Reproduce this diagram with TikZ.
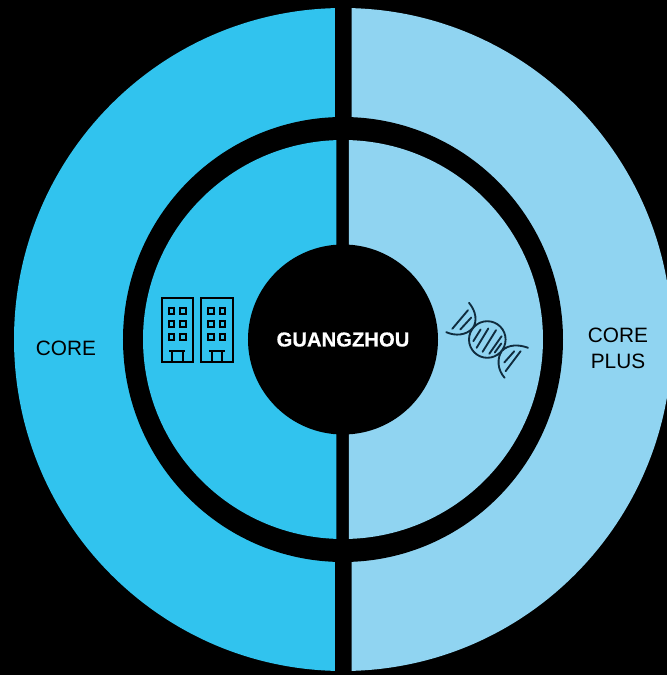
\documentclass[tikz,border=0pt]{standalone}
\usepackage{fontspec}
\setmainfont{Liberation Sans}
\newfontfamily\hubfont[BoldFeatures={FakeBold=0.4}]{Liberation Sans}
\definecolor{mycoreblue}{RGB}{49,195,238}
\definecolor{myplusblue}{RGB}{144,212,241}
\definecolor{mydnablue}{RGB}{16,44,62}
\newcommand{\halfdisk}[5]{\fill[#1] ({#2*cos(#4)},{#3*sin(#4)}) arc[start angle=#4, end angle=#5, x radius=#2, y radius=#3] -- cycle;}
\tikzset{
    regionlabel/.style={align=center, text=black, font=\fontsize{15.6pt}{19.5pt}\selectfont},
    hub/.style={fill=black, circle, inner sep=0pt, minimum size=142.5pt, text=white, font=\fontsize{15.2pt}{18pt}\hubfont\bfseries},
    building/.pic={
        \draw[line width=1.4pt] (-15.8,-31.7) rectangle (15.8,31.7);
        \foreach \wx in {-5.8,5.8}
            \foreach \wy in {19,6,-7}
                \draw[line width=1.5pt] (\wx-2.8,\wy-2.8) rectangle (\wx+2.8,\wy+2.8);
        \draw[line width=1.4pt] (-8,-20.7) -- (8,-20.7) (-5.2,-20.7) -- (-5.2,-31.7) (5.2,-20.7) -- (5.2,-31.7);
    },
    dna/.pic={
        \draw[mydnablue, line width=1.4pt, line cap=round] (0,0) circle (18.3)
            (-18.3,36.7) .. controls (-11,28) and (-10,18) .. (-14.5,11.5)
            (-41,7.3) .. controls (-32,3.3) and (-21,4) .. (-14.5,11.5)
            (17.3,-38.3) .. controls (10,-30) and (9.5,-19) .. (14.5,-11.5)
            (40.7,-8.3) .. controls (32,-5) and (21,-4.5) .. (14.5,-11.5)
            (-35,10.7) -- (-19.3,29.3)
            (-27,10) -- (-16,22)
            (17,-23) -- (27,-11.7)
            (18.3,-31.7) -- (33.3,-11.7);
        \foreach \hxa/\hya/\hxb/\hyb in {-14/-1.7/-6.7/10,-10.7/-8.3/1/11,-4.7/-12.3/8.7/9.3,2/-14.3/14.3/3.3,7.5/-13/14/-4}
            \draw[mydnablue, line width=1.4pt, line cap=round] (\hxa,\hya) -- (\hxb,\hyb);
    }
}
\begin{document}
\begin{tikzpicture}[x=0.75pt, y=0.75pt]
            \fill[black] (-343,-335.5) rectangle (324,339.5);
            \clip (-343,-335.5) rectangle (324,339.5);

            \halfdisk{mycoreblue}{329}{331.5}{91.4}{268.6}
            \halfdisk{myplusblue}{329}{331.5}{88.5}{-88.5}
            \fill[black] (0,0) ellipse[x radius=220, y radius=222.5];
            \halfdisk{mycoreblue}{200}{199.5}{91.9}{268.1}
            \halfdisk{myplusblue}{200}{199.5}{88.3}{-88.3}

            \node[hub] (guangzhou) at (0,0) {GUANGZHOU};
            \node[regionlabel] (core) at (-277,-8.5) {CORE};
            \node[regionlabel] (coreplus) at (275,-8.5) {CORE\\PLUS};

            \pic at (-165.5,9.5) {building};
            \pic at (-126.2,9.5) {building};
            \pic at (144.3,0) {dna};
        \end{tikzpicture}
\end{document}
